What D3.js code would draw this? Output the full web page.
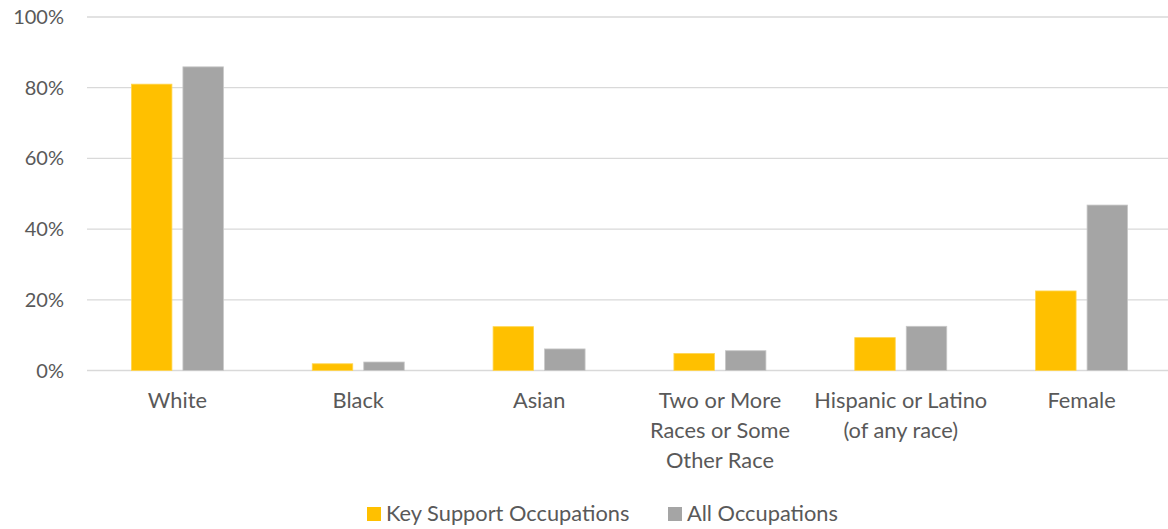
<!DOCTYPE html>
<html><head><meta charset="utf-8">
<script src="https://cdn.jsdelivr.net/npm/d3@7"></script>
<style>body{margin:0;background:#fff}svg{display:block}text{font-family:Lato,"Open Sans",sans-serif;fill:#595959}</style>
</head><body><svg id="c" width="1168" height="529"></svg>
<script>
const categories = [["White"],["Black"],["Asian"],["Two or More","Races or Some","Other Race"],["Hispanic or Latino","(of any race)"],["Female"]];
const seriesNames = ["Key Support Occupations","All Occupations"];
const keySupport = [81.0, 1.9, 12.4, 4.8, 9.3, 22.5];
const allOcc = [85.9, 2.4, 6.1, 5.6, 12.5, 46.8];
const yTicks = [0,20,40,60,80,100];
const colors = ["#FFC000","#A5A5A5"];
const strokes = ["#FFD54F","#C8C8C8"];

const svg = d3.select("#c");
const catKeys = categories.map(c=>c.join(" "));
const x0 = d3.scaleBand().domain(catKeys).range([87,1172]).padding(0);
const x1 = d3.scaleBand().domain(seriesNames).range([x0.bandwidth()/2-46, x0.bandwidth()/2+46]).paddingInner(11/51.5).paddingOuter(0);
const y = d3.scaleLinear().domain([0,100]).range([370.5,17]);

// gridlines
svg.append("g").selectAll("line").data(yTicks).join("line")
  .attr("x1",87).attr("x2",1168).attr("y1",d=>y(d)).attr("y2",d=>y(d))
  .attr("stroke","#D9D9D9").attr("stroke-width",d=>d===0?1.5:1.3);

// y labels
svg.append("g").selectAll("text").data(yTicks).join("text")
  .attr("x",64).attr("y",d=>y(d)).attr("dy","0.35em").attr("text-anchor","end")
  .attr("font-size",20).text(d=>d+"%");

// bars
const data = catKeys.map((k,i)=>({k, vals:[keySupport[i], allOcc[i]]}));
const g = svg.append("g").selectAll("g").data(data).join("g").attr("transform",d=>`translate(${x0(d.k)},0)`);
g.selectAll("rect").data(d=>d.vals.map((v,j)=>({s:seriesNames[j],v,j}))).join("rect")
  .attr("x",d=>x1(d.s)).attr("width",x1.bandwidth())
  .attr("y",d=>y(d.v)).attr("height",d=>y(0)-y(d.v))
  .attr("fill",d=>colors[d.j]).attr("stroke",d=>strokes[d.j]).attr("stroke-width",0.8);

// x labels
const xl = svg.append("g").selectAll("text").data(categories).join("text")
  .attr("text-anchor","middle").attr("font-size",21.8)
  .attr("transform",(d,i)=>`translate(${x0(catKeys[i])+x0.bandwidth()/2},408)`);
xl.selectAll("tspan").data(d=>d).join("tspan").attr("x",0).attr("y",(d,i)=>i*30).text(d=>d);

// legend
const leg = svg.append("g");
const legX = [367, 668];
seriesNames.forEach((s,i)=>{
  leg.append("rect").attr("x",legX[i]).attr("y",507).attr("width",14).attr("height",14).attr("fill",colors[i]);
  leg.append("text").attr("x",legX[i]+19).attr("y",513.5).attr("dy","0.35em").attr("font-size",21.8).text(s);
});
</script></body></html>
